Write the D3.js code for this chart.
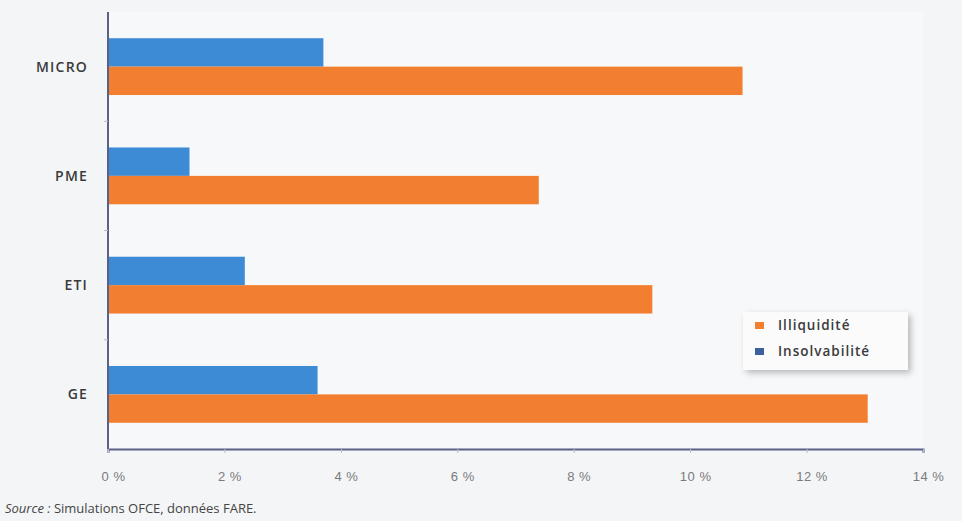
<!DOCTYPE html>
<html><head><meta charset="utf-8">
<script src="https://cdn.jsdelivr.net/npm/d3@7"></script>
<style>
html,body{margin:0;padding:0;background:#f4f5f7;}
svg{display:block;font-family:"Open Sans",sans-serif;}
</style></head>
<body><svg id="c" width="962" height="521"></svg>
<script>
const categories = ["MICRO","PME","ETI","GE"];
const insolvabilite = [3.7, 1.4, 2.35, 3.6];
const illiquidite = [10.9, 7.4, 9.35, 13.05];
const xTicks = [0,2,4,6,8,10,12,14];
const seriesNames = ["Illiquidité","Insolvabilité"];
const sourceLabel = "Source :";
const sourceText = " Simulations OFCE, données FARE.";

(function(){
const svg = d3.select("#c");
const mL = 108, mR = 923, mT = 12, mB = 449;
const x = d3.scaleLinear().domain([0,14]).range([mL,mR]);
const y = d3.scaleBand().domain(categories).range([mT,mB]).paddingInner(0.48).paddingOuter(0.24);
const blue = "#3d8bd4", orange = "#f27f2f";

svg.append("rect").attr("x",0).attr("y",0).attr("width",962).attr("height",521).attr("fill","#f4f5f7");
svg.append("rect").attr("x",mL).attr("y",mT).attr("width",mR-mL).attr("height",mB-mT).attr("fill","#f7f8fa");

const half = y.bandwidth()/2;
const g = svg.append("g");
g.selectAll("rect.b").data(categories).join("rect").attr("class","b")
  .attr("x",x(0)).attr("y",d=>y(d))
  .attr("width",(d,i)=>x(insolvabilite[i])-x(0)).attr("height",half).attr("fill",blue);
g.selectAll("rect.o").data(categories).join("rect").attr("class","o")
  .attr("x",x(0)).attr("y",d=>y(d)+half)
  .attr("width",(d,i)=>x(illiquidite[i])-x(0)).attr("height",half).attr("fill",orange);

// x axis
const xa = svg.append("g").attr("transform",`translate(0,${mB})`)
  .call(d3.axisBottom(x).tickValues(xTicks).tickSize(4).tickPadding(19).tickFormat(d=>d+" %"));
xa.select(".domain").attr("stroke","#5c5f86").attr("stroke-width",2);
xa.selectAll(".tick line").attr("stroke","#b8bccb");
xa.selectAll(".tick text").attr("fill","#7a7a7a").attr("font-size",13).attr("letter-spacing","0.5px").attr("dx",5);

// y axis
svg.append("line").attr("x1",mL).attr("x2",mL).attr("y1",mT).attr("y2",mB).attr("stroke","#5c5f86").attr("stroke-width",2);
const bounds = [1,2,3].map(i=>mT + i*(mB-mT)/4);
svg.selectAll("line.yt").data(bounds).join("line").attr("class","yt")
  .attr("x1",mL-4).attr("x2",mL).attr("y1",d=>d).attr("y2",d=>d).attr("stroke","#b8bccb");
svg.selectAll("text.cat").data(categories).join("text").attr("class","cat")
  .attr("x",88).attr("y",d=>y(d)+y.bandwidth()/2).attr("dy","0.35em")
  .attr("text-anchor","end").attr("font-size",14).attr("font-weight",600)
  .attr("letter-spacing","1.2px").attr("fill","#3a3a3a").text(d=>d);

// legend
const defs = svg.append("defs");
const f = defs.append("filter").attr("id","sh").attr("x","-20%").attr("y","-20%").attr("width","150%").attr("height","160%");
f.append("feDropShadow").attr("dx",3).attr("dy",3).attr("stdDeviation",3).attr("flood-color","#000").attr("flood-opacity",0.25);
const lg = svg.append("g").attr("transform","translate(743,312)");
lg.append("rect").attr("width",165).attr("height",58).attr("fill","#fbfbfc").attr("filter","url(#sh)");
const lcol = [orange, "#3e5f9e"];
seriesNames.forEach((n,i)=>{
  lg.append("rect").attr("x",12).attr("y",10+i*26).attr("width",9).attr("height",7).attr("fill",lcol[i]);
  lg.append("text").attr("x",35).attr("y",13+i*26).attr("dy","0.35em").attr("font-size",13.5)
    .attr("font-weight",600).attr("letter-spacing","1px").attr("fill","#3a3a3a").text(n);
});

// source
const st = svg.append("text").attr("x",5).attr("y",513).attr("font-size",13).attr("fill","#444");
st.append("tspan").attr("font-style","italic").text(sourceLabel);
st.append("tspan").text(sourceText);
})();
</script></body></html>
